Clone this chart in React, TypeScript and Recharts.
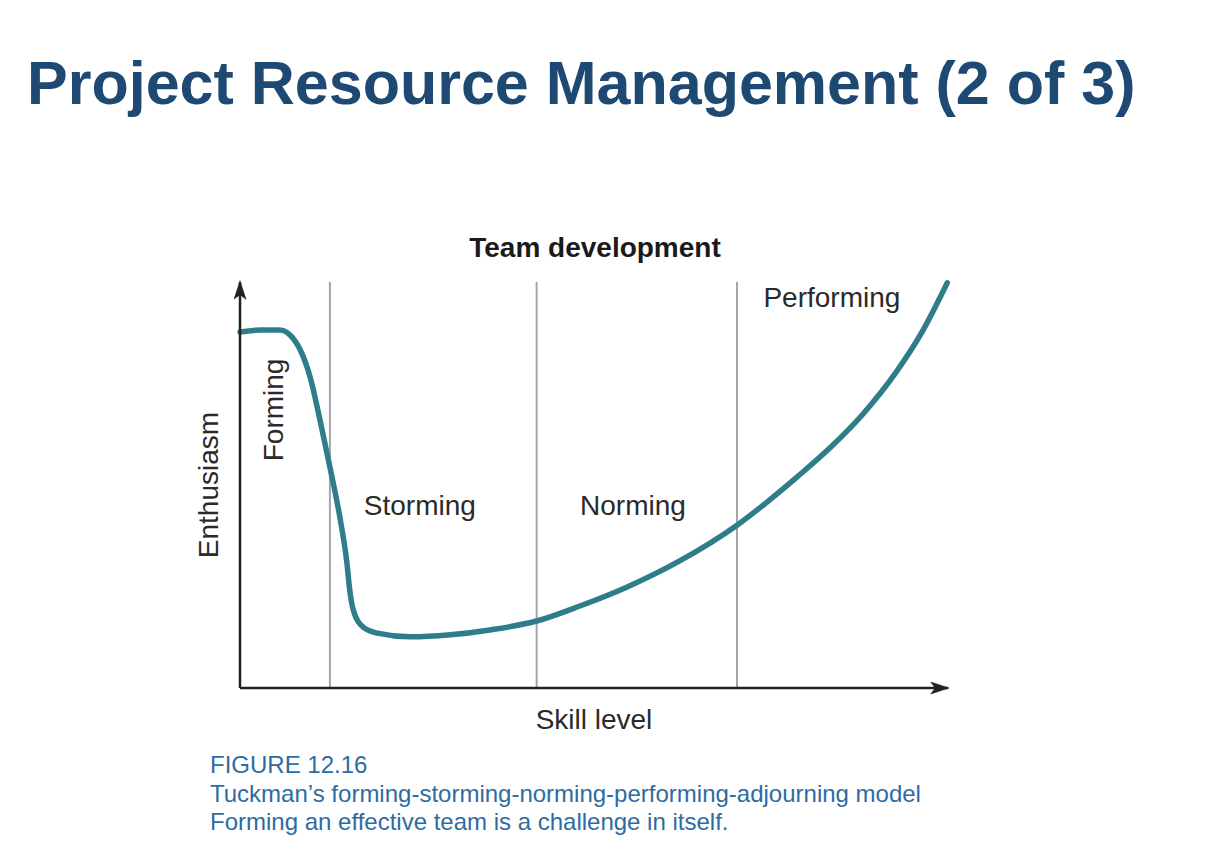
import React from 'react';
import { LineChart, Line, XAxis, YAxis, ReferenceLine, ReferenceDot, Label } from 'recharts';

// skill level (x) and enthusiasm (y), both on a 0-100 scale
const skillLevel = [
  0, 3.1, 5.6, 7.1, 8.5, 9.9, 11.3, 12.7, 14.1, 15.1, 15.5, 16.0, 17.4, 19.4, 24.0,
  29.7, 35.3, 41.9, 48.0, 54.7, 62.1, 70.2, 78.7, 83.3, 88.0, 92.8, 96.5, 99.9
];
const enthusiasm = [
  87.7, 88.2, 88.2, 86.9, 83.3, 76.6, 66.0, 54.4, 42.1, 30.8, 24.1, 19.2, 15.0, 13.5, 12.6,
  13.1, 14.3, 16.5, 20.2, 24.9, 31.3, 40.1, 52.0, 59.1, 67.5, 78.1, 88.2, 99.8
];

const stageBoundaries = [12.7, 41.9, 70.2];
const stageNames = ['Forming', 'Storming', 'Norming', 'Performing'];
const stageLabelX = [6.1, 25.4, 55.5, 83.6];
const stageLabelY = [68.5, 42.6, 42.6, 93.8];

const pageTitle = 'Project Resource Management (2 of 3)';
const chartTitle = 'Team development';
const captionLines = [
  'FIGURE 12.16',
  'Tuckman\u2019s forming-storming-norming-performing-adjourning model',
  'Forming an effective team is a challenge in itself.'
];

const rows = skillLevel.map((s, i) => ({ skill: s, enthusiasm: enthusiasm[i] }));

const FONT = "'Liberation Sans', Arial, Helvetica, sans-serif";
const CURVE = '#2f7d8b';
const AXIS = '#222222';

const stageShape = (name: string, vertical: boolean) => (props: any) => {
  const { cx, cy } = props;
  return (
    <text
      x={cx}
      y={cy}
      textAnchor="middle"
      transform={vertical ? `rotate(-90, ${cx}, ${cy})` : undefined}
      fontFamily={FONT}
      fontSize={28}
      fill="#2a2a2a"
    >
      {name}
    </text>
  );
};

const yAxisLabel = (props: any) => {
  const vb = props.viewBox || {};
  const x = vb.x + vb.width - 22;
  const y = vb.y + vb.height / 2;
  return (
    <text x={x} y={y} textAnchor="middle" transform={`rotate(-90, ${x}, ${y})`}
      fontFamily={FONT} fontSize={28} fill="#2a2a2a">
      Enthusiasm
    </text>
  );
};

const xAxisLabel = (props: any) => {
  const vb = props.viewBox || {};
  return (
    <text x={vb.x + vb.width / 2} y={vb.y + 41} textAnchor="middle"
      fontFamily={FONT} fontSize={28} fill="#2a2a2a">
      Skill level
    </text>
  );
};

export default function App() {
  return (
    <div style={{ position: 'absolute', left: 0, top: 0, width: 1224, height: 850, background: '#fff', fontFamily: FONT }}>
      <svg width={0} height={0} style={{ position: 'absolute' }}>
        <defs>
          <marker id="axisArrow" viewBox="0 0 20 13" markerWidth={20} markerHeight={13}
            refX={18} refY={6.5} orient="auto-start-reverse" markerUnits="userSpaceOnUse">
            <path d="M0,0 L20,6.5 L0,13 L5,6.5 Z" fill={AXIS} />
          </marker>
        </defs>
      </svg>

      <div style={{ position: 'absolute', left: 27, top: 53, fontSize: 61, lineHeight: '61px', fontWeight: 700, color: '#1e4972', whiteSpace: 'nowrap' }}>
        {pageTitle}
      </div>

      <div style={{ position: 'absolute', left: 0, top: 234, width: 1190, textAlign: 'center', fontSize: 28, lineHeight: '28px', fontWeight: 700, color: '#1a1a1a' }}>
        {chartTitle}
      </div>

      <div style={{ position: 'absolute', left: 0, top: 0 }}>
        <LineChart width={1224} height={850} data={rows} margin={{ top: 282, right: 276, bottom: 122, left: 200 }}>
          <XAxis dataKey="skill" type="number" domain={[0, 100]} tick={false} tickLine={false} height={40}
            axisLine={{ stroke: AXIS, strokeWidth: 2.5, markerEnd: 'url(#axisArrow)' }}>
            <Label content={xAxisLabel} />
          </XAxis>
          <YAxis type="number" domain={[0, 100]} tick={false} tickLine={false} width={40}
            axisLine={{ stroke: AXIS, strokeWidth: 2.5, markerStart: 'url(#axisArrow)' }}>
            <Label content={yAxisLabel} />
          </YAxis>
          {stageBoundaries.map((b) => (
            <ReferenceLine key={b} x={b} stroke="#a4a4aa" strokeWidth={2} />
          ))}
          {stageNames.map((name, i) => (
            <ReferenceDot key={name} x={stageLabelX[i]} y={stageLabelY[i]} r={0}
              shape={stageShape(name, i === 0)} />
          ))}
          <Line type="monotone" dataKey="enthusiasm" stroke={CURVE} strokeWidth={5.5}
            dot={false} isAnimationActive={false} strokeLinecap="round" />
        </LineChart>
      </div>

      <div style={{ position: 'absolute', left: 210, top: 751, fontSize: 24, lineHeight: '28.5px', color: '#2d6ba3', whiteSpace: 'nowrap' }}>
        {captionLines.map((l) => (
          <div key={l}>{l}</div>
        ))}
      </div>
    </div>
  );
}
